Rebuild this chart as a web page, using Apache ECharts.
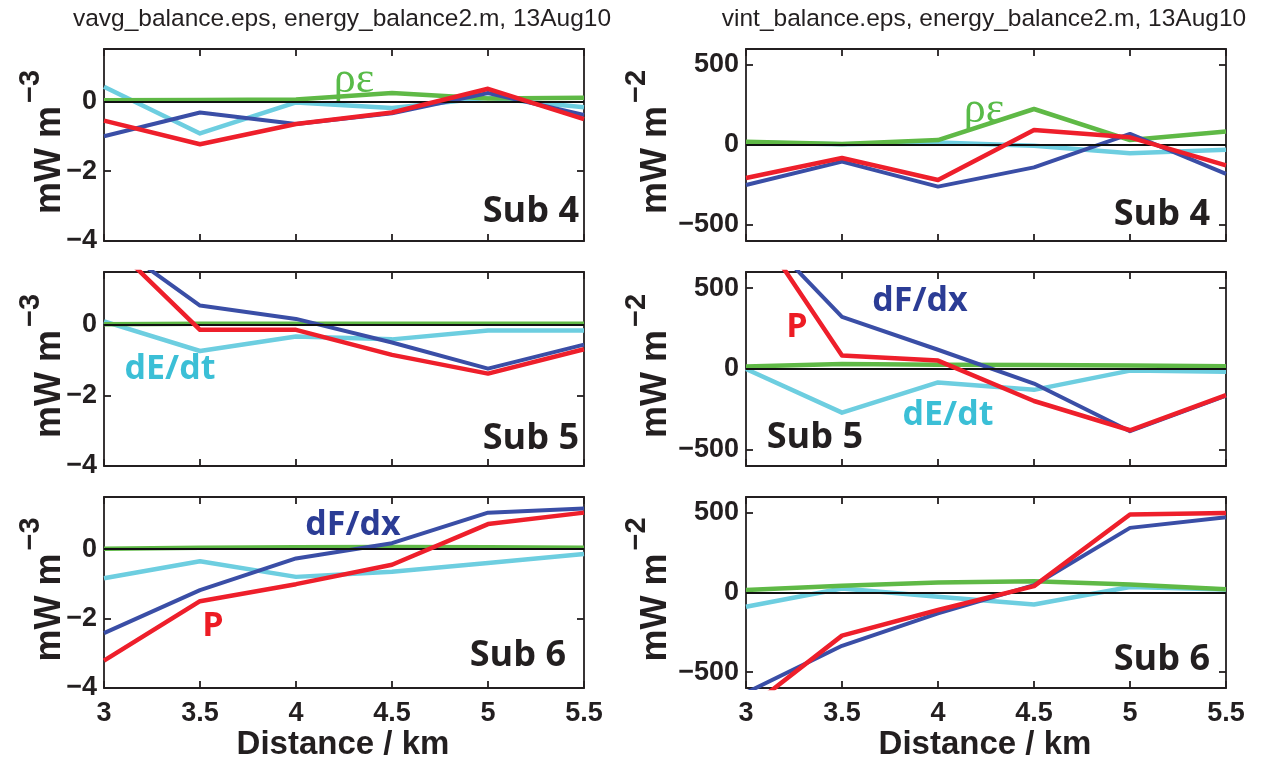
<!DOCTYPE html>
<html>
<head>
<meta charset="utf-8">
<script src="https://cdn.jsdelivr.net/npm/echarts@6/dist/echarts.min.js"></script>
<style>
html,body{margin:0;padding:0;background:#fff;}
#chart{width:1263px;height:761px;}
</style>
</head>
<body>
<div id="chart"></div>
<script>
// ---------------- DATA ----------------
const distance = [3, 3.5, 4, 4.5, 5, 5.5];

// Left column: volume-averaged terms (mW m^-3)
const avg4_dEdt   = [0.42, -0.92, -0.03, -0.19, 0.10, -0.17];
const avg4_rhoEps = [0.03, 0.04, 0.05, 0.24, 0.08, 0.10];
const avg4_dFdx   = [-1.00, -0.32, -0.65, -0.34, 0.24, -0.39];
const avg4_P      = [-0.55, -1.23, -0.65, -0.32, 0.36, -0.51];

const avg5_dEdt   = [0.10, -0.74, -0.33, -0.41, -0.16, -0.16];
const avg5_rhoEps = [0.02, 0.03, 0.03, 0.03, 0.03, 0.03];
const avg5_dFdx   = [2.50, 0.55, 0.17, -0.50, -1.24, -0.56];
const avg5_P      = [2.50, -0.14, -0.14, -0.85, -1.38, -0.69];

const avg6_dEdt   = [-0.84, -0.35, -0.80, -0.65, -0.40, -0.14];
const avg6_rhoEps = [0.01, 0.04, 0.05, 0.06, 0.05, 0.04];
const avg6_dFdx   = [-2.42, -1.18, -0.27, 0.17, 1.05, 1.17];
const avg6_P      = [-3.21, -1.50, -1.01, -0.45, 0.72, 1.05];

// Right column: vertically integrated terms (mW m^-2)
const int4_dEdt   = [15, 5, 15, -4, -52, -30];
const int4_rhoEps = [20, 6, 31, 225, 31, 85];
const int4_dFdx   = [-250, -104, -260, -140, 69, -181];
const int4_P      = [-206, -81, -219, 94, 48, -127];

const int5_dEdt   = [0, -270, -83, -129, -10, -17];
const int5_rhoEps = [15, 31, 27, 25, 21, 17];
const int5_dFdx   = [940, 323, 119, -90, -385, -165];
const int5_P      = [970, 83, 52, -198, -379, -162];

const int6_dEdt   = [-90, 25, -27, -75, 35, 19];
const int6_rhoEps = [15, 42, 63, 71, 50, 21];
const int6_dFdx   = [-630, -335, -131, 46, 406, 473];
const int6_P      = [-740, -271, -110, 40, 490, 500];

const xTicks = [3, 3.5, 4, 4.5, 5, 5.5];
const yTicksAvg = [-4, -2, 0];
const yTicksInt = [-500, 0, 500];

const titles = ['vavg_balance.eps, energy_balance2.m, 13Aug10', 'vint_balance.eps, energy_balance2.m, 13Aug10'];
const subLabels = ['Sub 4', 'Sub 4', 'Sub 5', 'Sub 5', 'Sub 6', 'Sub 6'];

// ---------------- LAYOUT / STYLE ----------------
const panels = [
  {col:0,row:0,series:[avg4_dEdt,avg4_rhoEps,avg4_dFdx,avg4_P],ymin:-4,ymax:1.5,ticks:yTicksAvg},
  {col:1,row:0,series:[int4_dEdt,int4_rhoEps,int4_dFdx,int4_P],ymin:-600,ymax:600,ticks:yTicksInt},
  {col:0,row:1,series:[avg5_dEdt,avg5_rhoEps,avg5_dFdx,avg5_P],ymin:-4,ymax:1.5,ticks:yTicksAvg},
  {col:1,row:1,series:[int5_dEdt,int5_rhoEps,int5_dFdx,int5_P],ymin:-600,ymax:600,ticks:yTicksInt},
  {col:0,row:2,series:[avg6_dEdt,avg6_rhoEps,avg6_dFdx,avg6_P],ymin:-4,ymax:1.5,ticks:yTicksAvg},
  {col:1,row:2,series:[int6_dEdt,int6_rhoEps,int6_dFdx,int6_P],ymin:-600,ymax:600,ticks:yTicksInt}
];
const colLeft = [104, 746];
const colWidth = 480;
const rowTop = [49, 272, 497];
const rowHeight = [192, 194, 191];
const lineColors = ['#6dcee0', '#5fb946', '#3a4ea6', '#ee1f2b'];
const lineWidths = [4.5, 4.5, 4, 4.5];
const frameColor = '#231f20';
const axisFont = 'Liberation Sans, Arial, sans-serif';
const annFont = 'Open Sans, Lato, sans-serif';

const grid = [], xAxis = [], yAxis = [], series = [];
panels.forEach((p, i) => {
  grid.push({left: colLeft[p.col], top: rowTop[p.row], width: colWidth, height: rowHeight[p.row], containLabel:false});
  const isBottom = p.row === 2;
  ['bottom','top'].forEach((pos, k) => {
    xAxis.push({
      gridIndex: i, type: 'value', min: 3, max: 5.5, interval: 0.5, position: pos,
      axisLine: {show: true, onZero: false, lineStyle: {color: frameColor, width: 1.8}},
      axisTick: {show: true, inside: true, length: 7, customValues: xTicks, lineStyle: {color: frameColor, width: 1.8}},
      axisLabel: {show: isBottom && k === 0, customValues: xTicks, margin: 12, color: '#231f20',
        fontFamily: axisFont, fontWeight: 'bold', fontSize: 27},
      splitLine: {show: false}
    });
  });
  ['left','right'].forEach((pos, k) => {
    yAxis.push({
      gridIndex: i, type: 'value', min: p.ymin, max: p.ymax, position: pos,
      axisLine: {show: true, onZero: false, lineStyle: {color: frameColor, width: 1.8}},
      axisTick: {show: true, inside: true, length: 7, customValues: p.ticks, lineStyle: {color: frameColor, width: 1.8}},
      axisLabel: {show: k === 0, customValues: p.ticks, margin: 7, color: '#231f20',
        fontFamily: axisFont, fontWeight: 'bold', fontSize: 27,
        formatter: v => (v < 0 ? '\u2212' + Math.abs(v) : String(v))},
      splitLine: {show: false}
    });
  });
  p.series.forEach((vals, s) => {
    series.push({
      type: 'line', xAxisIndex: 2*i, yAxisIndex: 2*i, z: 2 + s,
      data: distance.map((d, j) => [d, vals[j]]),
      symbol: 'none', clip: true, animation: false,
      lineStyle: {color: lineColors[s], width: lineWidths[s], join: 'round'}
    });
  });
  // zero reference line
  series.push({
    type: 'line', xAxisIndex: 2*i, yAxisIndex: 2*i, z: 10, data: [], animation: false,
    markLine: {symbol: 'none', silent: true, animation: false, label: {show: false},
      lineStyle: {color: '#111', width: 1.8, type: 'solid'}, data: [{yAxis: 0}]}
  });
});

// ---------------- TEXT ----------------
const graphic = [];
const colCenter = [colLeft[0] + colWidth/2, colLeft[1] + colWidth/2];
titles.forEach((t, c) => graphic.push({type:'text', x: colCenter[c] - 2, y: 19,
  style:{text: t, font: '24.5px Liberation Sans, Arial, sans-serif', fill:'#231f20', align:'center', verticalAlign:'middle'}}));
// x-axis names
[0,1].forEach(c => graphic.push({type:'text', x: colCenter[c] - 1, y: 745,
  style:{text:'Distance / km', font:'bold 33px Liberation Sans, Arial, sans-serif', fill:'#231f20', align:'center', verticalAlign:'middle'}}));
// y-axis names
const yNameX = [42, 648];
panels.forEach(p => {
  const cy = rowTop[p.row] + rowHeight[p.row]/2 - 3;
  graphic.push({type:'text', x: yNameX[p.col], y: cy, rotation: Math.PI/2,
    style:{text: '{a|mW m}{b|\u2212' + (p.col === 0 ? '3' : '2') + '}', align:'center', verticalAlign:'middle',
      rich:{a:{font:'bold 36px Liberation Sans, Arial, sans-serif', fill:'#231f20', lineHeight:52, verticalAlign:'bottom'},
            b:{font:'bold 29px Liberation Sans, Arial, sans-serif', fill:'#231f20', lineHeight:52, verticalAlign:'top', padding:[0,0,0,3]}}}});
});
// Sub labels
const subPos = [[579,212],[1210,215],[579,439],[863,438],[566,656],[1210,660]];
subLabels.forEach((t, i) => graphic.push({type:'text', x: subPos[i][0], y: subPos[i][1],
  style:{text:t, font:'bold 36px ' + annFont, fill:'#231f20', align:'right', verticalAlign:'middle'}}));
// Term annotations
const ann = [
  {t:'\u03c1\u03b5', x:354, y:80, c:'#58bb48', f:'44px Liberation Serif, serif'},
  {t:'\u03c1\u03b5', x:984, y:110, c:'#58bb48', f:'44px Liberation Serif, serif'},
  {t:'dE/dt', x:170, y:369, c:'#3bbfd6', f:'bold 34px ' + annFont},
  {t:'dF/dx', x:920, y:301, c:'#2b3c95', f:'bold 34px ' + annFont},
  {t:'P', x:797, y:327, c:'#ed1c24', f:'bold 34px ' + annFont},
  {t:'dE/dt', x:948, y:415, c:'#3bbfd6', f:'bold 34px ' + annFont},
  {t:'dF/dx', x:353, y:525, c:'#2b3c95', f:'bold 34px ' + annFont},
  {t:'P', x:213, y:626, c:'#ed1c24', f:'bold 34px ' + annFont}
];
ann.forEach(a => graphic.push({type:'text', x:a.x, y:a.y,
  style:{text:a.t, font:a.f, fill:a.c, align:'center', verticalAlign:'middle'}}));

const chart = echarts.init(document.getElementById('chart'), null, {renderer:'canvas'});
chart.setOption({
  animation: false,
  backgroundColor: '#ffffff',
  grid, xAxis, yAxis, series, graphic
});
</script>
</body>
</html>
